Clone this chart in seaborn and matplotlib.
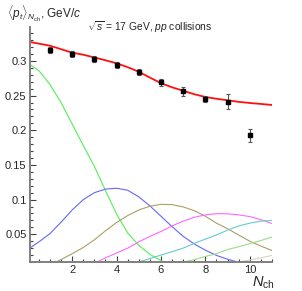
import numpy as np
import pandas as pd
import matplotlib
matplotlib.use('Agg')
import matplotlib.pyplot as plt
import seaborn as sns
from matplotlib.ticker import MultipleLocator, FormatStrFormatter

# Data.
n_ch = [1, 2, 3, 4, 5, 6, 7, 8, 9, 10]
mean_pt = [0.316, 0.310, 0.303, 0.294, 0.284, 0.269, 0.256, 0.245, 0.241, 0.193]
mean_pt_err = [0.004, 0.004, 0.004, 0.004, 0.004, 0.005, 0.0065, 0.004, 0.011, 0.0095]

# Curves sampled every 0.5 in N_ch.
x_grid = [0.0, 0.5, 1.0, 1.5, 2.0, 2.5, 3.0, 3.5, 4.0, 4.5, 5.0, 5.5,
          6.0, 6.5, 7.0, 7.5, 8.0, 8.5, 9.0, 9.5, 10.0, 10.5, 11.0]
fit_total = [0.328, 0.325, 0.322, 0.317, 0.312, 0.309, 0.305, 0.301, 0.2966, 0.291, 0.2845, 0.276,
             0.268, 0.262, 0.257, 0.252, 0.248, 0.2455, 0.2433, 0.241, 0.2394, 0.238, 0.2365]
comp_1 = [0.297, 0.286, 0.266, 0.240, 0.209, 0.178, 0.148, 0.113, 0.079, 0.052, 0.034, 0.021,
          0.012, 0.006, 0.003, 0.001, 0.0, 0.0, 0.0, 0.0, 0.0, 0.0, 0.0]
comp_2 = [0.028, 0.039, 0.051, 0.0675, 0.085, 0.100, 0.110, 0.1152, 0.1164, 0.1135, 0.104, 0.091,
          0.076, 0.061, 0.047, 0.036, 0.027, 0.0195, 0.014, 0.0095, 0.006, 0.004, 0.002]
comp_3 = [0.0, 0.002, 0.006, 0.0135, 0.022, 0.031, 0.042, 0.055, 0.067, 0.077, 0.085, 0.0905,
          0.0932, 0.0928, 0.0895, 0.084, 0.076, 0.066, 0.058, 0.049, 0.040, 0.033, 0.0265]
comp_4 = [0.0, 0.0, 0.0, 0.0, 0.0, 0.002, 0.008, 0.016, 0.023, 0.030, 0.039, 0.047,
          0.054, 0.062, 0.069, 0.0745, 0.078, 0.0797, 0.0795, 0.078, 0.0755, 0.071, 0.0655]
comp_5 = [0.0, 0.0, 0.0, 0.0, 0.0, 0.0, 0.0, 0.0, 0.0, 0.004, 0.010, 0.015,
          0.020, 0.025, 0.030, 0.037, 0.043, 0.049, 0.056, 0.062, 0.066, 0.069, 0.070]
comp_6 = [0.0, 0.0, 0.0, 0.0, 0.0, 0.0, 0.0, 0.0, 0.0, 0.0, 0.0, 0.0,
          0.002, 0.006, 0.0097, 0.0135, 0.018, 0.022, 0.028, 0.032, 0.0365, 0.041, 0.046]
comp_7 = [0.0, 0.0, 0.0, 0.0, 0.0, 0.0, 0.0, 0.0, 0.0, 0.0, 0.0, 0.0,
          0.0, 0.0, 0.0, 0.0, 0.0, 0.003, 0.007, 0.0097, 0.013, 0.016, 0.0195]

comp_names = ['c1', 'c2', 'c3', 'c4', 'c5', 'c6', 'c7']
comp_colors = ['#55ee55', '#6666ff', '#aaa066', '#ff66ff', '#66cccc', '#99dd88', '#ddd2b8']

comps = pd.DataFrame({'x': x_grid * 7,
                      'y': comp_1 + comp_2 + comp_3 + comp_4 + comp_5 + comp_6 + comp_7,
                      'comp': sum([[c] * len(x_grid) for c in comp_names], [])})

sns.set_style('ticks')
plt.rcParams['font.family'] = ['Liberation Sans', 'DejaVu Sans']
plt.rcParams['mathtext.fontset'] = 'custom'
plt.rcParams['mathtext.rm'] = 'Liberation Sans'
plt.rcParams['mathtext.it'] = 'Liberation Sans:italic'

fig = plt.figure(figsize=(3.02, 2.91), dpi=100)
ax = fig.add_axes([30 / 302, 29 / 291, 242 / 302, 235 / 291])

sns.lineplot(data=comps, x='x', y='y', hue='comp', palette=comp_colors,
             linewidth=0.8, legend=False, ax=ax)
sns.lineplot(x=x_grid, y=fit_total, color='#ff1010', linewidth=1.3, ax=ax)
ax.errorbar(n_ch, mean_pt, yerr=mean_pt_err, fmt='s', color='black', markersize=3,
            ecolor='#555555', elinewidth=0.8, capsize=1.2, capthick=0.8, zorder=5)

ax.set_xlim(0.1, 11)
ax.set_ylim(0.01, 0.349)
ax.xaxis.set_major_locator(MultipleLocator(2))
ax.xaxis.set_minor_locator(MultipleLocator(0.5))
ax.yaxis.set_major_locator(MultipleLocator(0.05))
ax.yaxis.set_minor_locator(MultipleLocator(0.01))
ax.yaxis.set_major_formatter(FormatStrFormatter('%g'))
ax.set_xticks([2, 4, 6, 8, 10])
ax.set_yticks([0.05, 0.1, 0.15, 0.2, 0.25, 0.3])
ax.set_xlabel('')
ax.set_ylabel('')

for side in ['top', 'right']:
    ax.spines[side].set_visible(False)
for side in ['left', 'bottom']:
    ax.spines[side].set_color('#808080')
    ax.spines[side].set_linewidth(1.4)
ax.tick_params(which='both', direction='in', color='#404040', width=0.8,
               labelsize=8, pad=2.5)
ax.tick_params(which='major', length=4.5)
ax.tick_params(which='minor', length=2.2)

fig.text(7 / 302, 1 - 14 / 291, r'$\langle p_t\rangle_{N_{\rm ch}}$, GeV/$c$',
         fontsize=8.5, va='center', ha='left')
fig.text(150 / 302, 1 - 31 / 291, r'$\sqrt{s}$ = 17 GeV, $pp$ collisions',
         fontsize=7.4, va='baseline', ha='center')
fig.text(252 / 302, 1 - 287 / 291, r'$N_{\rm ch}$', fontsize=10.5,
         va='baseline', ha='left')

fig.savefig('out.png', dpi=100)
